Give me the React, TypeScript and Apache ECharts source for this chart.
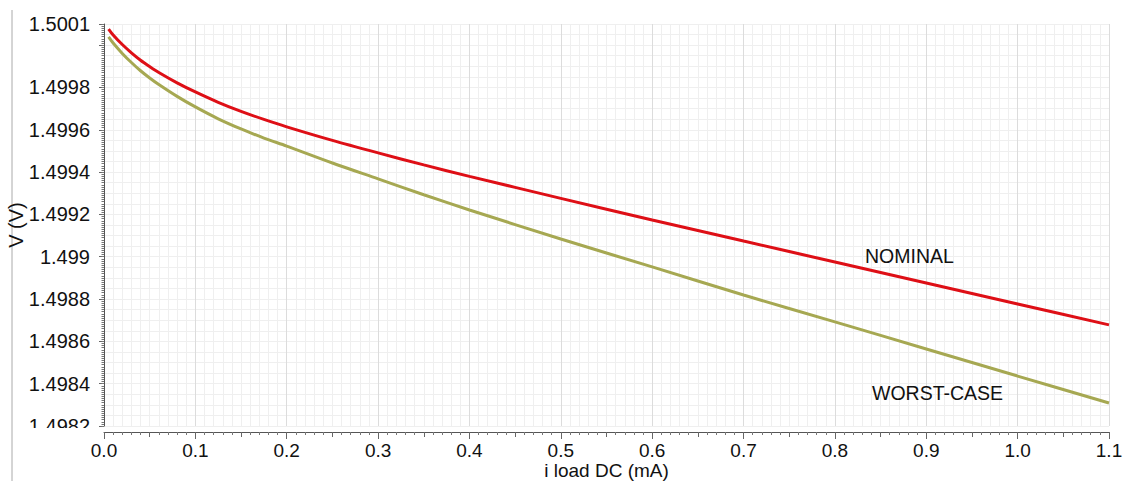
import React, { useEffect, useRef } from "react";
import * as echarts from "echarts";

const xValues = [0.005, 0.01, 0.02, 0.03, 0.04, 0.05, 0.06, 0.08, 0.1, 0.125, 0.15, 0.175, 0.2, 0.25, 0.3, 0.35, 0.4, 0.5, 0.6, 0.7, 0.8, 0.9, 1.0, 1.1];
const nominal = [1.500076, 1.500048, 1.500003, 1.499964, 1.499929, 1.499899, 1.499871, 1.499822, 1.499779, 1.49973, 1.499687, 1.499649, 1.499614, 1.49955, 1.499491, 1.499434, 1.49938, 1.499276, 1.499174, 1.499074, 1.498975, 1.498876, 1.498777, 1.498678];
const worstCase = [1.500039, 1.50001, 1.499961, 1.499918, 1.499879, 1.499845, 1.499814, 1.499758, 1.499708, 1.499652, 1.499604, 1.499561, 1.499523, 1.499443, 1.499368, 1.499293, 1.499221, 1.499084, 1.498952, 1.498819, 1.498692, 1.498564, 1.498436, 1.498309];
const seriesNames = ["NOMINAL", "WORST-CASE"];
const xAxisTitle = "i load DC (mA)";
const yAxisTitle = "V (V)";
const yMin = 1.4982;
const yMax = 1.5001;
const yStep = 0.0002;
const xMin = 0;
const xMax = 1.1;
const xStep = 0.1;

const FONT = "'Liberation Sans', Arial, Helvetica, sans-serif";

export default function App() {
  const ref = useRef<HTMLDivElement>(null);
  useEffect(() => {
    document.body.style.margin = "0";
    document.body.style.overflow = "hidden";
    const chart = echarts.init(ref.current!, null, { renderer: "svg" });
    const common = { min: yMin, max: yMax, offset: 7, position: "left" as const };
    chart.setOption({
      animation: false,
      backgroundColor: "#ffffff",
      textStyle: { fontFamily: FONT },
      grid: {
        left: 104,
        right: 14,
        top: 24,
        bottom: 55,
        containLabel: false,
        outerBoundsMode: "none",
      },
      xAxis: [
        {
          type: "value",
          min: xMin,
          max: xMax,
          interval: xStep,
          offset: 6,
          name: xAxisTitle,
          nameLocation: "middle",
          nameGap: 29,
          nameMoveOverlap: false,
          nameTextStyle: { fontSize: 19, color: "#111", fontFamily: FONT },
          axisLine: { show: true, lineStyle: { color: "#555", width: 1 } },
          axisTick: { show: true, length: 7, lineStyle: { color: "#666" } },
          minorTick: { show: true, splitNumber: 10, length: 3, lineStyle: { color: "#777" } },
          axisLabel: {
            fontSize: 19,
            color: "#111",
            margin: 9,
            fontFamily: FONT,
            formatter: (v: number) => v.toFixed(1),
          },
          splitLine: { show: true, lineStyle: { color: "#dcdcdc", width: 1 } },
          minorSplitLine: { show: true, lineStyle: { color: "#efefef", width: 1 } },
        },
        {
          type: "value",
          min: xMin,
          max: xMax,
          interval: 0.05,
          offset: 6,
          position: "bottom",
          axisLine: { show: false },
          axisTick: { show: true, length: 5, lineStyle: { color: "#666" } },
          axisLabel: { show: false },
          splitLine: { show: false },
        },
      ],
      yAxis: [
        {
          type: "value",
          ...common,
          interval: yStep,
          name: yAxisTitle,
          nameLocation: "middle",
          nameGap: 71,
          nameRotate: 90,
          nameMoveOverlap: false,
          nameTextStyle: { fontSize: 20, color: "#111", fontFamily: FONT },
          axisLine: { show: true, lineStyle: { color: "#555", width: 1 } },
          axisTick: { show: true, length: 5, lineStyle: { color: "#666" } },
          axisLabel: {
            fontSize: 20,
            color: "#111",
            margin: 7,
            fontFamily: FONT,
            formatter: (v: number) =>
              Math.abs(v - 1.5) < 1e-8 ? "" : String(parseFloat(v.toFixed(4))),
          },
          splitLine: { show: true, lineStyle: { color: "#dcdcdc", width: 1 } },
        },
        {
          type: "value",
          ...common,
          interval: 0.00001,
          axisLine: { show: false },
          axisTick: { show: true, length: 2.5, lineStyle: { color: "#777" } },
          axisLabel: { show: false },
          splitLine: { show: false },
        },
        {
          type: "value",
          ...common,
          interval: 0.00005,
          axisLine: { show: false },
          axisTick: { show: false },
          axisLabel: { show: false },
          splitLine: { show: true, lineStyle: { color: "#efefef", width: 1 } },
        },
      ],
      series: [
        {
          name: seriesNames[0],
          type: "line",
          data: xValues.map((x, i) => [x, nominal[i]]),
          showSymbol: false,
          smooth: 0.3,
          lineStyle: { color: "#de0f16", width: 3 },
          z: 5,
        },
        {
          name: seriesNames[1],
          type: "line",
          data: xValues.map((x, i) => [x, worstCase[i]]),
          showSymbol: false,
          smooth: 0.3,
          lineStyle: { color: "#a6a852", width: 3 },
          z: 4,
        },
      ],
      graphic: [
        {
          type: "line",
          shape: { x1: 12, y1: 10, x2: 12, y2: 481 },
          style: { stroke: "#aaaaaa", lineWidth: 1 },
        },
        {
          type: "rect",
          shape: { x: 25, y: 428, width: 68, height: 12 },
          style: { fill: "#ffffff" },
          z: 100,
        },
        {
          type: "text",
          x: 865,
          y: 256,
          style: {
            text: seriesNames[0],
            fontSize: 19.5,
            fontFamily: FONT,
            fill: "#111",
            verticalAlign: "middle",
            align: "left",
          },
          z: 100,
        },
        {
          type: "text",
          x: 872,
          y: 393,
          style: {
            text: seriesNames[1],
            fontSize: 19.5,
            fontFamily: FONT,
            fill: "#111",
            verticalAlign: "middle",
            align: "left",
          },
          z: 100,
        },
      ],
    });
    return () => chart.dispose();
  }, []);
  return <div ref={ref} style={{ width: 1123, height: 481 }} />;
}
